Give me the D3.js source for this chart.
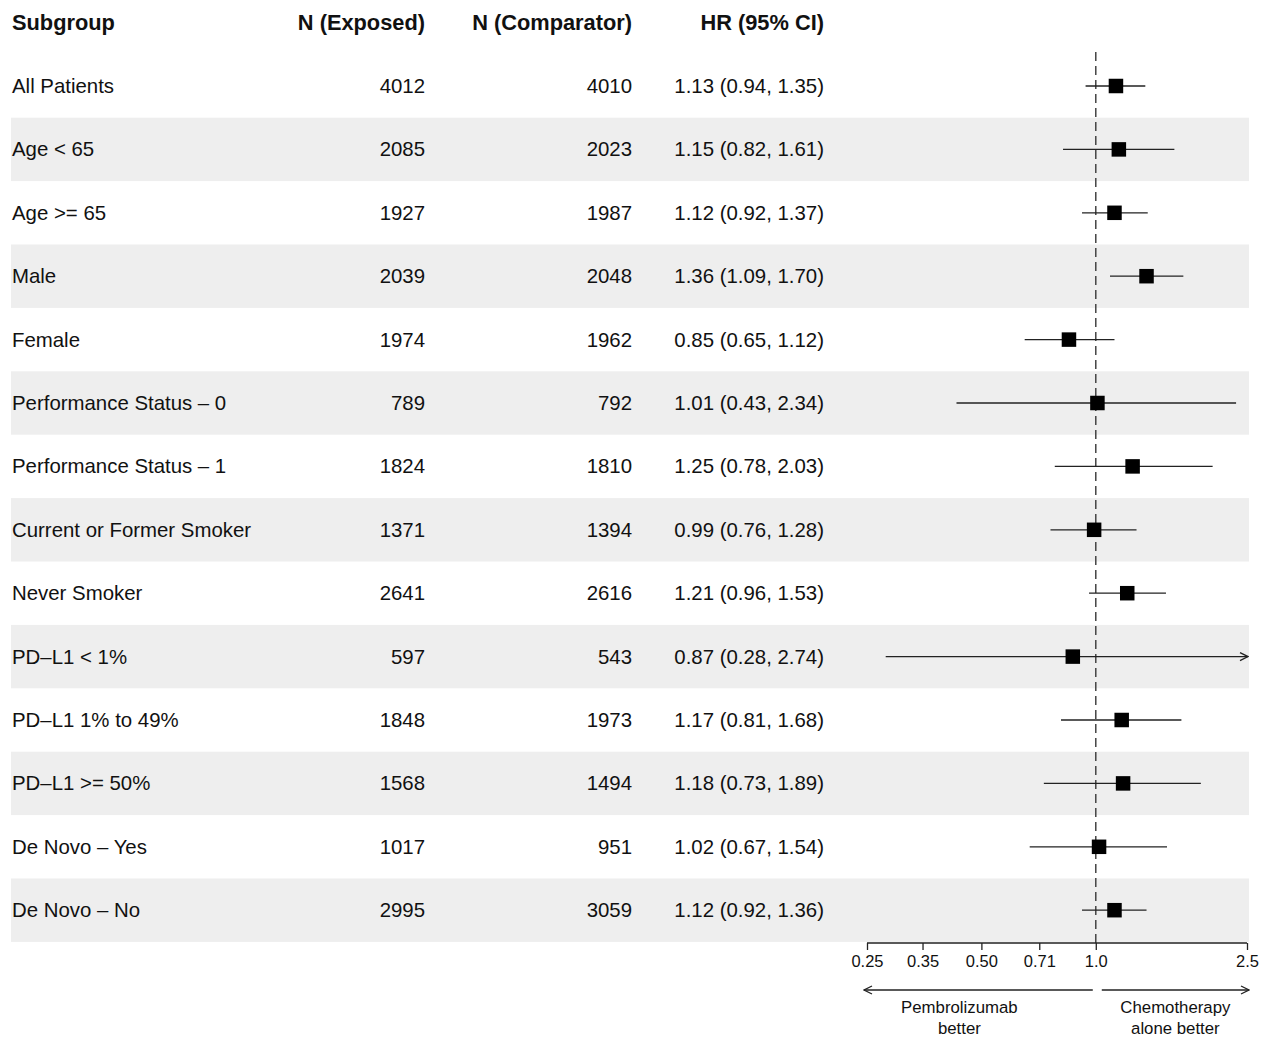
<!DOCTYPE html>
<html>
<head>
<meta charset="utf-8">
<script src="https://cdn.jsdelivr.net/npm/d3@7"></script>
<style>
  html, body { margin: 0; padding: 0; background: #fff; }
  svg { display: block; font-family: "Liberation Sans", Arial, Helvetica, sans-serif; }
</style>
</head>
<body>
<svg id="chart" width="1270" height="1038"></svg>
<script>
// Subgroup table: names, sample sizes, hazard ratios and 95% CIs
const subgroups = [
  "All Patients", "Age < 65", "Age >= 65", "Male", "Female",
  "Performance Status \u2013 0", "Performance Status \u2013 1",
  "Current or Former Smoker", "Never Smoker",
  "PD\u2013L1 < 1%", "PD\u2013L1 1% to 49%", "PD\u2013L1 >= 50%",
  "De Novo \u2013 Yes", "De Novo \u2013 No"
];
const nExposed    = [4012, 2085, 1927, 2039, 1974, 789, 1824, 1371, 2641, 597, 1848, 1568, 1017, 2995];
const nComparator = [4010, 2023, 1987, 2048, 1962, 792, 1810, 1394, 2616, 543, 1973, 1494, 951, 3059];
const hr      = [1.13, 1.15, 1.12, 1.36, 0.85, 1.01, 1.25, 0.99, 1.21, 0.87, 1.17, 1.18, 1.02, 1.12];
const ciLower = [0.94, 0.82, 0.92, 1.09, 0.65, 0.43, 0.78, 0.76, 0.96, 0.28, 0.81, 0.73, 0.67, 0.92];
const ciUpper = [1.35, 1.61, 1.37, 1.70, 1.12, 2.34, 2.03, 1.28, 1.53, 2.74, 1.68, 1.89, 1.54, 1.36];

const headers = ["Subgroup", "N (Exposed)", "N (Comparator)", "HR (95% CI)"];
const tickValues = [0.25, 0.35, 0.50, 0.71, 1.0, 2.5];
const tickLabels = ["0.25", "0.35", "0.50", "0.71", "1.0", "2.5"];
const xDomain = [0.25, 2.5];

const svg = d3.select("#chart");

const rows = subgroups.map((s, i) => ({
  name: s, ne: nExposed[i], nc: nComparator[i],
  hr: hr[i], lo: ciLower[i], hi: ciUpper[i]
}));

// Layout
const rowH = 63.4;
const firstRowY = 86;
const x = d3.scaleLog().domain(xDomain).range([867, 1247]);
const y = d3.scaleLinear().domain([0, rows.length - 1])
  .range([firstRowY, firstRowY + rowH * (rows.length - 1)]);

const colSubgroup = 12, colExp = 425, colComp = 632, colHR = 824;
const fontSize = 20.4;

// Alternating row bands
svg.append("g").selectAll("rect")
  .data(rows.filter((d, i) => i % 2 === 1))
  .join("rect")
  .attr("x", 11)
  .attr("y", d => y(rows.indexOf(d)) - rowH / 2)
  .attr("width", 1249 - 11)
  .attr("height", rowH)
  .attr("fill", "#eeeeee");

// Header
const hdr = svg.append("g").attr("font-weight", "bold").attr("font-size", 21.8).attr("fill", "#111");
hdr.append("text").attr("x", colSubgroup).attr("y", 30).text(headers[0]);
hdr.append("text").attr("x", colExp).attr("y", 30).attr("text-anchor", "end").text(headers[1]);
hdr.append("text").attr("x", colComp).attr("y", 30).attr("text-anchor", "end").text(headers[2]);
hdr.append("text").attr("x", colHR).attr("y", 30).attr("text-anchor", "end").text(headers[3]);

// Table text
const fmt = d3.format(".2f");
const tbl = svg.append("g").attr("font-size", fontSize).attr("fill", "#111");
const rowG = tbl.selectAll("g").data(rows).join("g")
  .attr("transform", (d, i) => `translate(0,${y(i) + 7})`);
rowG.append("text").attr("x", colSubgroup).text(d => d.name);
rowG.append("text").attr("x", colExp).attr("text-anchor", "end").text(d => d.ne);
rowG.append("text").attr("x", colComp).attr("text-anchor", "end").text(d => d.nc);
rowG.append("text").attr("x", colHR).attr("text-anchor", "end")
  .text(d => `${fmt(d.hr)} (${fmt(d.lo)}, ${fmt(d.hi)})`);

// Reference line at HR = 1
const axisY = 943;
svg.append("line")
  .attr("x1", x(1)).attr("x2", x(1))
  .attr("y1", 52).attr("y2", axisY)
  .attr("stroke", "#444").attr("stroke-width", 1.5)
  .attr("stroke-dasharray", "9,5");

// Arrow marker for clipped intervals and direction arrows
const defs = svg.append("defs");
defs.append("marker")
  .attr("id", "arrow")
  .attr("viewBox", "0 0 10 10")
  .attr("refX", 9).attr("refY", 5)
  .attr("markerWidth", 10).attr("markerHeight", 10)
  .attr("markerUnits", "userSpaceOnUse")
  .attr("orient", "auto")
  .append("path")
  .attr("d", "M1,1 L9,5 L1,9")
  .attr("fill", "none").attr("stroke", "#222").attr("stroke-width", 1.3);

// Confidence intervals
const [dMin, dMax] = xDomain;
const ci = svg.append("g");
ci.selectAll("line").data(rows).join("line")
  .attr("x1", d => x(Math.max(d.lo, dMin)))
  .attr("x2", d => x(Math.min(d.hi, dMax)) + (d.hi > dMax ? 1 : 0))
  .attr("y1", (d, i) => y(i)).attr("y2", (d, i) => y(i))
  .attr("stroke", "#222").attr("stroke-width", 1.3)
  .attr("marker-end", d => d.hi > dMax ? "url(#arrow)" : null);

// Point estimates
const sq = 14.5;
svg.append("g").selectAll("rect").data(rows).join("rect")
  .attr("x", d => x(d.hr) - sq / 2)
  .attr("y", (d, i) => y(i) - sq / 2)
  .attr("width", sq).attr("height", sq)
  .attr("fill", "#000");

// X axis
const axis = d3.axisBottom(x)
  .tickValues(tickValues)
  .tickFormat((d, i) => tickLabels[i])
  .tickSize(7)
  .tickPadding(5);
const axG = svg.append("g").attr("transform", `translate(0,${axisY})`).call(axis);
axG.select(".domain").attr("stroke", "#222").attr("stroke-width", 1.3)
  .attr("d", `M${x(dMin)},0H${x(dMax)}`);
axG.selectAll(".tick line").attr("stroke", "#222").attr("stroke-width", 1.3);
axG.selectAll(".tick text").attr("font-size", 16.5).attr("fill", "#111")
  .attr("font-family", "Liberation Sans, Arial, sans-serif");

// Direction arrows and captions
const arrY = 990;
svg.append("line")
  .attr("x1", x(1) - 3).attr("x2", x(dMin) - 3)
  .attr("y1", arrY).attr("y2", arrY)
  .attr("stroke", "#222").attr("stroke-width", 1.3)
  .attr("marker-end", "url(#arrow)");
svg.append("line")
  .attr("x1", x(1) + 6).attr("x2", x(dMax) + 2)
  .attr("y1", arrY).attr("y2", arrY)
  .attr("stroke", "#222").attr("stroke-width", 1.3)
  .attr("marker-end", "url(#arrow)");

const cap = svg.append("g").attr("font-size", 16.8).attr("fill", "#111").attr("text-anchor", "middle");
const leftCx = (x(dMin) + x(1)) / 2 - 22;
const rightCx = (x(1) + x(dMax)) / 2 + 4;
cap.append("text").attr("x", leftCx).attr("y", 1013).text("Pembrolizumab");
cap.append("text").attr("x", leftCx).attr("y", 1034).text("better");
cap.append("text").attr("x", rightCx).attr("y", 1013).text("Chemotherapy");
cap.append("text").attr("x", rightCx).attr("y", 1034).text("alone better");
</script>
</body>
</html>
